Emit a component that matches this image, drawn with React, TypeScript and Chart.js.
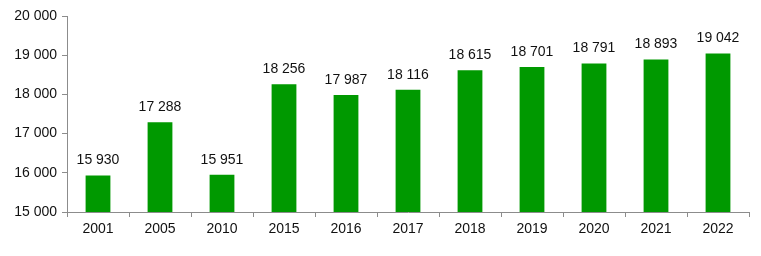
import React, { useEffect, useRef } from "react";
import { Chart, registerables } from "chart.js";

Chart.register(...registerables);

const categories = ["2001", "2005", "2010", "2015", "2016", "2017", "2018", "2019", "2020", "2021", "2022"];
const values = [15930, 17288, 15951, 18256, 17987, 18116, 18615, 18701, 18791, 18893, 19042];
const yTicks = [15000, 16000, 17000, 18000, 19000, 20000];

const fmt = (v: number) => String(Math.round(v)).replace(/\B(?=(\d{3})+(?!\d))/g, " ");

const labelPlugin = {
  id: "barLabels",
  afterDatasetsDraw(chart: any) {
    const ctx = chart.ctx;
    const meta = chart.getDatasetMeta(0);
    ctx.save();
    ctx.font = "14px 'Liberation Sans', Arial, sans-serif";
    ctx.fillStyle = "#111";
    ctx.textAlign = "center";
    ctx.textBaseline = "bottom";
    meta.data.forEach((bar: any, i: number) => {
      ctx.fillText(fmt(values[i]), bar.x, bar.y - 8);
    });
    ctx.restore();
  },
};

export default function App() {
  const ref = useRef<HTMLCanvasElement>(null);
  useEffect(() => {
    document.body.style.margin = "0";
    const chart = new Chart(ref.current!, {
      type: "bar",
      data: {
        labels: categories,
        datasets: [
          {
            data: values,
            backgroundColor: "#009900",
            categoryPercentage: 1,
            barPercentage: 0.4,
          },
        ],
      },
      options: {
        animation: false,
        responsive: false,
        layout: { padding: { top: 16, right: 12, left: 0, bottom: 0 } },
        plugins: { legend: { display: false }, tooltip: { enabled: false } },
        scales: {
          x: {
            grid: { display: true, drawOnChartArea: false, offset: true, tickLength: 5, color: "#8c8c8c" },
            border: { color: "#8c8c8c" },
            ticks: { font: { family: "'Liberation Sans', Arial, sans-serif", size: 14 }, color: "#111", padding: 4 },
            afterFit: (axis: any) => { axis.height = 44; },
          },
          y: {
            min: 15000,
            max: 20000,
            afterBuildTicks: (axis: any) => { axis.ticks = yTicks.map((v) => ({ value: v })); },
            grid: { display: true, drawOnChartArea: false, tickLength: 5, color: "#8c8c8c" },
            border: { color: "#8c8c8c" },
            ticks: {
              font: { family: "'Liberation Sans', Arial, sans-serif", size: 14 },
              color: "#111",
              padding: 5,
              callback: (v: any) => fmt(Number(v)),
            },
            afterFit: (axis: any) => { axis.width = 67; },
          },
        },
      },
      plugins: [labelPlugin],
    });
    return () => chart.destroy();
  }, []);
  return (
    <div style={{ width: 761, height: 256 }}>
      <canvas ref={ref} width={761} height={256} style={{ display: "block" }} />
    </div>
  );
}
